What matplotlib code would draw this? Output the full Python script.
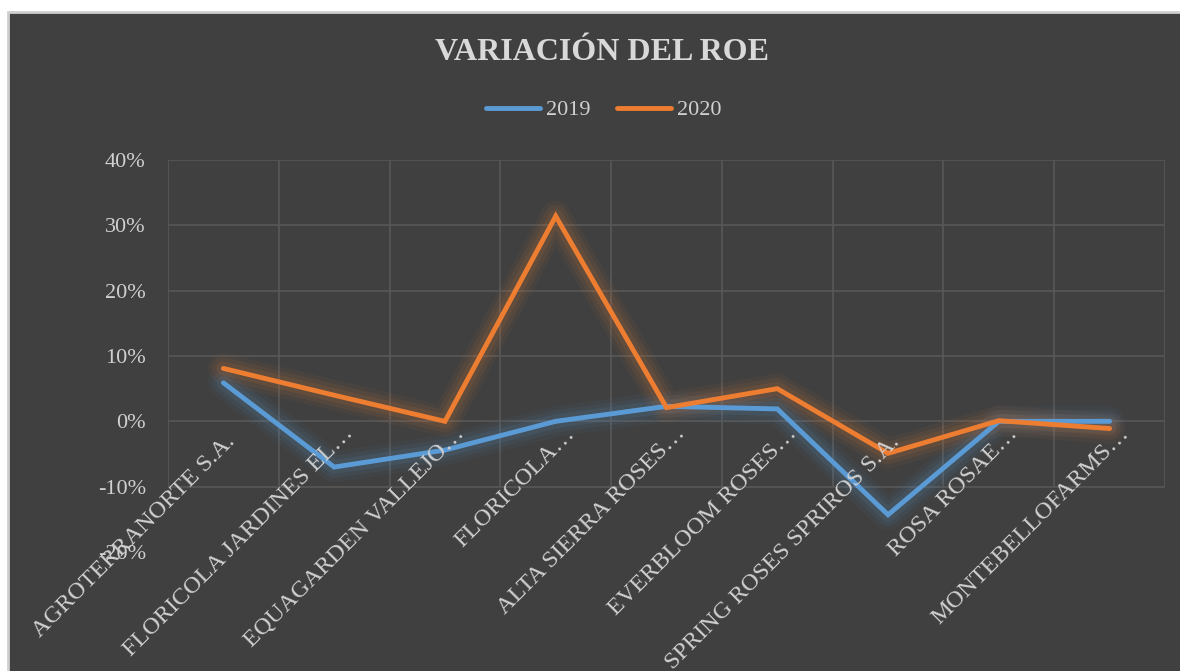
import matplotlib
matplotlib.use('Agg')
import numpy as np
import matplotlib.pyplot as plt
from matplotlib.patches import Rectangle
from matplotlib.ticker import PercentFormatter, FixedLocator

# Company names as they show on the axis (Excel truncates the long ones)
companies = [
    'AGROTERRANORTE S.A.', 'FLORICOLA JARDINES EL…', 'EQUAGARDEN VALLEJO…',
    'FLORICOLA…', 'ALTA SIERRA ROSES…', 'EVERBLOOM ROSES…',
    'SPRING ROSES SPRIROS S.A.', 'ROSA ROSAE…', 'MONTEBELLOFARMS…'
]
roe_2019 = [0.059, -0.070, -0.044, 0.000, 0.023, 0.019, -0.143, 0.000, 0.000]
roe_2020 = [0.081, 0.040, 0.000, 0.314, 0.021, 0.050, -0.049, 0.001, -0.011]
years = ['2019', '2020']
colors = ['#5B9BD5', '#ED7D31']

plt.rcParams['font.family'] = ['Liberation Serif', 'DejaVu Serif']
plt.rcParams['axes.unicode_minus'] = False
txt_color = '#d0d0d0'
grid_color = '#575757'

fig = plt.figure(figsize=(11.8, 6.71), dpi=100, facecolor='white')
# dark chart area with thin light border, like the Excel chart object
fig.patches.append(Rectangle((8 / 1180, -0.01), 1.0, 1 - 12 / 671 + 0.01,
                             transform=fig.transFigure, facecolor='#404040',
                             edgecolor='#cfcfcf', lw=2, zorder=-10))

ax = fig.add_axes([168 / 1180, 1 - 552 / 671, (1165 - 168) / 1180, (552 - 160) / 671])
ax.set_facecolor('none')

x = np.arange(len(companies))
n = len(companies)

# gridlines stop at -10%, the category labels sit below that
ax.hlines(np.arange(-0.1, 0.41, 0.1), -0.5, n - 0.5, color=grid_color, lw=1.2, zorder=1)
ax.vlines(np.arange(-0.5, n, 1.0), -0.1, 0.4, color=grid_color, lw=1.2, zorder=1)

for vals, name, col in zip([roe_2019, roe_2020], years, colors):
    # soft glow under the line
    for lw, a in [(22, 0.05), (16, 0.07), (10, 0.10)]:
        ax.plot(x, vals, color=col, lw=lw, alpha=a, solid_capstyle='round',
                solid_joinstyle='round', zorder=2)
    ax.plot(x, vals, color=col, lw=3.5, label=name, solid_capstyle='round',
            solid_joinstyle='miter', zorder=3)

ax.set_xlim(-0.5, n - 0.5)
ax.set_ylim(-0.2, 0.4)
ax.yaxis.set_major_locator(FixedLocator(np.arange(-0.2, 0.41, 0.1)))
ax.yaxis.set_major_formatter(PercentFormatter(1.0, decimals=0))
ax.set_xticks([])
ax.tick_params(length=0, labelsize=16, labelcolor=txt_color, pad=16)
for s in ax.spines.values():
    s.set_visible(False)

# rotated category labels hanging from the 0% line; truncated ones end a bit higher
for i, lab in enumerate(companies):
    off = (20, -13) if lab.endswith('…') else (12, -21)
    ax.annotate(lab, xy=(i, 0), xytext=off, textcoords='offset pixels',
                rotation=45, ha='right', va='baseline', rotation_mode='anchor',
                fontsize=17.5, color=txt_color, zorder=4)

fig.text(0.51, 0.922, 'VARIACIÓN DEL ROE', ha='center', va='center',
         fontsize=23, fontweight='bold', color='#d9d9d9')
fig.legend(loc='center', bbox_to_anchor=(0.512, 0.836), ncol=2, frameon=False,
           fontsize=16, labelcolor=txt_color, handlelength=2.4,
           handletextpad=0.3, columnspacing=1.2)

fig.savefig('out.png', dpi=100, facecolor=fig.get_facecolor())
